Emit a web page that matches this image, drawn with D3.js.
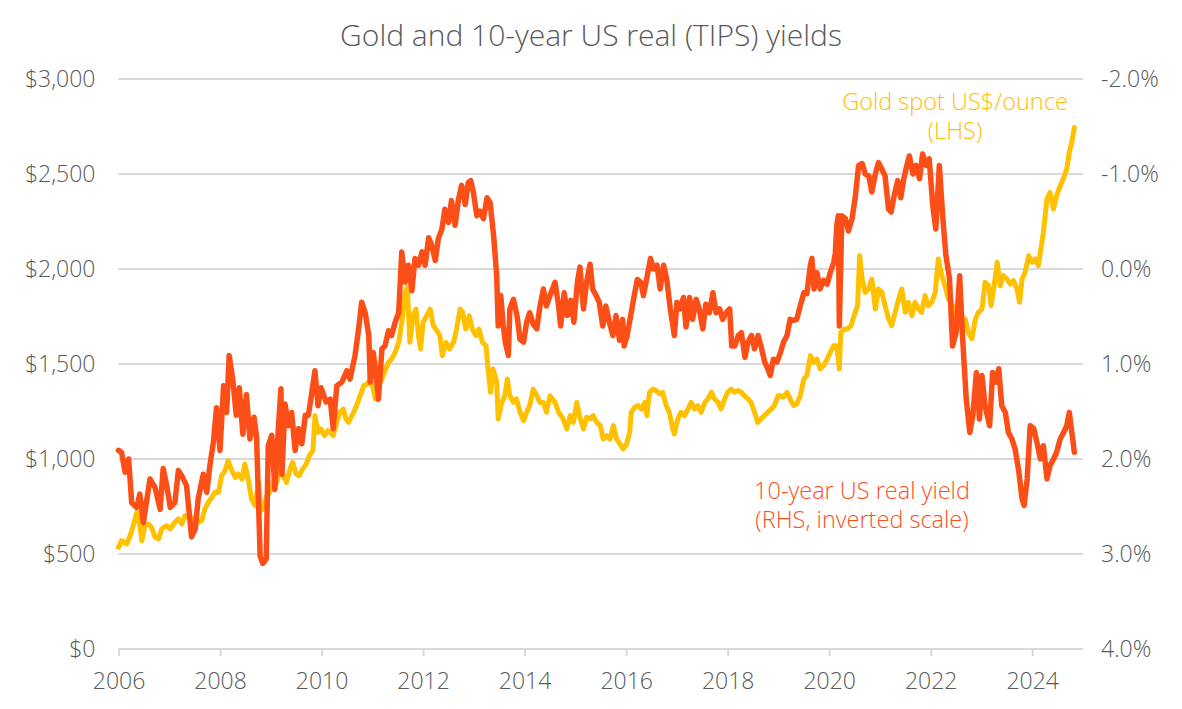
<!DOCTYPE html>
<html><head><meta charset="utf-8">
<script src="https://cdn.jsdelivr.net/npm/d3@7"></script>
<style>
body{margin:0;background:#fff;}
svg{display:block;font-family:"Open Sans",Lato,sans-serif;font-weight:300;}
svg text{font-family:"Open Sans",Lato,sans-serif;font-weight:300;}
</style></head>
<body><svg id="c" width="1182" height="709"></svg>
<script>
const titleText = "Gold and 10-year US real (TIPS) yields";
const yearTicks = [2006,2008,2010,2012,2014,2016,2018,2020,2022,2024];
const goldTicks = [0,500,1000,1500,2000,2500,3000];
const yieldTicks = [-2,-1,0,1,2,3,4];

// Gold spot US$/ounce (LHS) — decimal year, price
const goldYear = [2006.0,2006.06,2006.16,2006.23,2006.29,2006.36,2006.42,2006.46,2006.52,2006.59,2006.65,2006.72,2006.79,2006.85,2006.95,
2007.02,2007.11,2007.18,2007.25,2007.31,2007.38,2007.44,2007.51,2007.57,2007.64,2007.7,2007.77,2007.84,2007.9,2007.97,
2008.03,2008.1,2008.16,2008.22,2008.3,2008.36,2008.43,2008.49,2008.56,2008.62,2008.69,2008.76,2008.8,2008.85,2008.92,2008.98,
2009.05,2009.12,2009.18,2009.25,2009.31,2009.38,2009.43,2009.5,2009.56,2009.63,2009.7,2009.76,2009.83,2009.87,2009.93,2009.99,2010.06,2010.12,
2010.17,2010.23,2010.3,2010.36,2010.43,2010.48,2010.53,2010.6,2010.69,2010.76,2010.83,2010.9,2010.96,
2011.02,2011.06,2011.12,2011.19,2011.25,2011.32,2011.38,2011.45,2011.52,2011.58,2011.65,2011.69,2011.74,2011.8,2011.86,2011.91,2011.95,
2012.0,2012.07,2012.14,2012.2,2012.27,2012.33,2012.38,2012.45,2012.52,2012.6,2012.66,2012.73,2012.78,2012.84,2012.91,2012.97,
2013.04,2013.1,2013.17,2013.24,2013.28,2013.33,2013.38,2013.45,2013.48,2013.55,2013.61,2013.66,2013.71,2013.78,2013.84,2013.91,2013.98,
2014.04,2014.1,2014.17,2014.24,2014.3,2014.37,2014.43,2014.5,2014.6,2014.67,2014.76,2014.83,2014.9,2014.96,
2015.03,2015.08,2015.16,2015.22,2015.29,2015.35,2015.42,2015.49,2015.55,2015.62,2015.68,2015.75,2015.81,2015.88,2015.94,
2016.01,2016.07,2016.1,2016.17,2016.24,2016.3,2016.37,2016.41,2016.46,2016.53,2016.59,2016.66,2016.72,2016.79,2016.85,2016.92,2016.95,
2017.02,2017.08,2017.15,2017.22,2017.28,2017.35,2017.41,2017.48,2017.55,2017.61,2017.68,2017.74,2017.81,2017.87,2017.94,
2018.0,2018.07,2018.13,2018.2,2018.27,2018.33,2018.4,2018.46,2018.53,2018.59,2018.66,2018.72,2018.79,2018.86,2018.92,2018.99,
2019.04,2019.1,2019.17,2019.23,2019.3,2019.36,2019.43,2019.5,2019.56,2019.63,2019.69,2019.76,2019.82,2019.89,2019.96,
2020.02,2020.09,2020.15,2020.2,2020.23,2020.3,2020.36,2020.43,2020.49,2020.56,2020.6,2020.65,2020.71,2020.78,2020.84,2020.91,2020.97,
2021.04,2021.1,2021.17,2021.23,2021.3,2021.37,2021.43,2021.5,2021.56,2021.63,2021.69,2021.76,2021.82,2021.89,2021.95,
2022.02,2022.09,2022.15,2022.22,2022.28,2022.35,2022.41,2022.48,2022.55,2022.61,2022.68,2022.74,2022.81,2022.88,2022.94,
2023.01,2023.07,2023.14,2023.19,2023.25,2023.31,2023.37,2023.43,2023.5,2023.57,2023.63,2023.7,2023.75,2023.8,2023.86,2023.93,
2024.0,2024.06,2024.12,2024.17,2024.22,2024.29,2024.35,2024.42,2024.48,2024.55,2024.61,2024.68,2024.73,2024.78,2024.83];
const goldPrice = [535,570,553,597,649,720,649,570,649,658,641,588,579,632,649,
632,667,685,658,702,693,685,693,667,676,737,772,798,825,825,
912,939,991,947,903,921,895,974,886,790,755,877,728,737,807,825,
880,877,948,912,877,948,983,921,912,948,974,1018,1044,1228,1140,1158,1123,1149,
1140,1123,1193,1246,1263,1211,1193,1228,1281,1333,1386,1395,1421,
1368,1316,1386,1421,1465,1509,1526,1561,1614,1719,1877,1904,1614,1754,1789,1649,1579,
1719,1754,1789,1702,1676,1649,1544,1614,1579,1614,1684,1789,1772,1684,1754,1684,
1649,1684,1614,1596,1474,1351,1474,1404,1211,1298,1333,1421,1333,1298,1316,1246,1202,
1246,1281,1368,1333,1298,1298,1246,1333,1298,1246,1211,1158,1228,1193,
1298,1228,1158,1219,1211,1228,1193,1176,1105,1123,1105,1176,1105,1079,1053,
1079,1140,1246,1272,1281,1263,1298,1228,1351,1368,1360,1342,1351,1281,1246,1158,1132,
1211,1246,1228,1263,1298,1263,1281,1246,1298,1316,1351,1316,1298,1263,1316,
1351,1368,1351,1360,1351,1333,1316,1298,1246,1193,1211,1228,1246,1263,1281,1333,
1333,1325,1351,1316,1281,1290,1333,1421,1439,1544,1509,1526,1474,1491,1526,
1561,1596,1596,1474,1667,1684,1684,1702,1754,1807,2070,1947,1877,1895,1947,1789,1895,
1877,1807,1737,1702,1772,1842,1895,1772,1825,1754,1825,1789,1772,1860,1807,
1825,1877,2053,1965,1912,1842,1825,1754,1737,1684,1737,1667,1632,1737,1772,
1789,1930,1912,1807,1912,2035,1912,1965,1947,1921,1939,1895,1825,1947,1982,2070,
2035,2053,2018,2105,2193,2368,2403,2316,2386,2438,2474,2526,2614,2667,2745];

// 10-year US real yield % (RHS, inverted) — decimal year, yield
const yieldYear = [2006.0,2006.06,2006.13,2006.2,2006.26,2006.36,2006.42,2006.49,2006.56,2006.62,2006.72,2006.82,2006.88,2006.95,
2007.02,2007.11,2007.18,2007.25,2007.34,2007.44,2007.51,2007.57,2007.67,2007.74,2007.8,2007.87,2007.93,
2008.0,2008.07,2008.13,2008.18,2008.25,2008.32,2008.38,2008.45,2008.52,2008.59,2008.67,2008.72,2008.79,2008.84,2008.91,2008.95,
2009.02,2009.08,2009.15,2009.2,2009.22,2009.28,2009.35,2009.41,2009.48,2009.55,2009.61,2009.68,2009.74,2009.8,2009.87,2009.93,2009.99,2010.09,
2010.17,2010.23,2010.3,2010.4,2010.5,2010.56,2010.66,2010.73,2010.79,2010.86,2010.93,2010.96,
2011.02,2011.09,2011.12,2011.19,2011.25,2011.32,2011.38,2011.45,2011.52,2011.58,2011.65,2011.71,2011.78,2011.84,2011.91,2011.98,
2012.04,2012.11,2012.17,2012.24,2012.3,2012.37,2012.43,2012.5,2012.56,2012.63,2012.7,2012.76,2012.83,2012.89,2012.94,2012.99,
2013.06,2013.12,2013.19,2013.26,2013.32,2013.39,2013.45,2013.48,2013.53,2013.58,2013.62,2013.68,2013.71,2013.78,2013.85,2013.91,2013.98,
2014.04,2014.1,2014.17,2014.24,2014.3,2014.37,2014.43,2014.5,2014.6,2014.67,2014.71,2014.78,2014.84,2014.91,2014.97,
2015.04,2015.09,2015.16,2015.22,2015.29,2015.34,2015.41,2015.47,2015.54,2015.6,2015.67,2015.74,2015.8,2015.87,2015.93,2015.96,
2016.02,2016.09,2016.16,2016.22,2016.29,2016.34,2016.41,2016.48,2016.54,2016.61,2016.67,2016.74,2016.8,2016.87,2016.95,
2017.0,2017.06,2017.13,2017.18,2017.25,2017.31,2017.38,2017.44,2017.51,2017.57,2017.64,2017.71,2017.77,2017.84,2017.9,2017.97,
2018.04,2018.08,2018.14,2018.21,2018.27,2018.34,2018.4,2018.47,2018.53,2018.6,2018.66,2018.73,2018.79,2018.84,2018.9,2018.97,
2019.04,2019.1,2019.17,2019.23,2019.3,2019.36,2019.43,2019.5,2019.56,2019.63,2019.66,2019.7,2019.76,2019.82,2019.89,2019.96,
2020.02,2020.09,2020.12,2020.15,2020.18,2020.2,2020.25,2020.32,2020.38,2020.45,2020.51,2020.58,2020.65,2020.71,2020.78,2020.84,2020.9,2020.97,
2021.04,2021.1,2021.17,2021.22,2021.28,2021.35,2021.41,2021.47,2021.53,2021.58,2021.65,2021.71,2021.78,2021.84,2021.91,2021.97,
2022.04,2022.1,2022.17,2022.24,2022.3,2022.37,2022.43,2022.5,2022.57,2022.63,2022.7,2022.77,2022.83,2022.9,2022.96,
2023.01,2023.07,2023.16,2023.22,2023.29,2023.34,2023.4,2023.47,2023.53,2023.6,2023.66,2023.73,2023.8,2023.84,2023.9,2023.96,
2024.03,2024.09,2024.16,2024.22,2024.29,2024.35,2024.42,2024.48,2024.55,2024.62,2024.68,2024.73,2024.78,2024.83];
const yieldPct = [1.91,1.93,2.14,2.0,2.46,2.51,2.37,2.67,2.42,2.21,2.30,2.53,2.1,2.28,
2.51,2.46,2.12,2.18,2.28,2.82,2.74,2.42,2.16,2.35,2.07,1.82,1.46,
1.91,1.23,1.51,0.91,1.16,1.54,1.25,1.74,1.32,1.79,1.56,1.77,3.02,3.1,3.05,1.86,
1.75,2.32,1.67,1.26,2.16,1.42,1.65,1.51,1.91,1.68,1.84,1.54,1.54,1.33,1.07,1.44,1.25,1.40,
1.37,1.68,1.23,1.19,1.07,1.16,0.91,0.63,0.35,0.46,0.70,1.19,
0.88,1.19,1.37,0.84,0.81,0.65,0.70,0.56,0.46,-0.18,0.14,-0.04,0.23,-0.11,-0.04,-0.18,
-0.04,-0.33,-0.25,-0.09,-0.32,-0.42,-0.63,-0.49,-0.72,-0.46,-0.74,-0.88,-0.68,-0.91,-0.93,-0.81,
-0.56,-0.61,-0.53,-0.75,-0.70,-0.35,0.07,0.6,0.28,0.6,0.77,0.91,0.42,0.32,0.49,0.74,0.77,
0.56,0.46,0.58,0.63,0.40,0.21,0.39,0.28,0.14,0.39,0.6,0.25,0.49,0.33,0.56,
0.14,-0.02,0.42,0.14,-0.05,0.21,0.28,0.35,0.6,0.39,0.56,0.70,0.49,0.75,0.53,0.81,
0.70,0.49,0.28,0.11,0.14,0.28,0.09,-0.11,0.0,-0.04,0.21,-0.04,0.11,0.42,0.70,
0.35,0.42,0.3,0.61,0.3,0.53,0.32,0.42,0.63,0.37,0.46,0.25,0.46,0.42,0.53,0.46,
0.42,0.81,0.81,0.70,0.67,0.93,0.77,0.70,0.84,0.70,0.82,0.98,1.05,1.12,0.95,0.98,
0.88,0.77,0.70,0.53,0.54,0.53,0.39,0.25,0.26,-0.04,-0.11,0.21,0.04,0.21,0.12,0.16,
0.04,-0.07,-0.16,-0.46,-0.56,0.6,-0.56,-0.53,-0.40,-0.53,-0.74,-1.09,-1.11,-1.0,-0.98,-0.81,-0.98,-1.12,
-1.05,-0.98,-0.63,-0.6,-0.77,-0.93,-0.75,-0.95,-1.09,-1.19,-1.0,-1.09,-0.95,-1.21,-1.09,-1.16,
-0.67,-0.42,-1.09,-0.53,-0.14,0.1,0.81,0.67,0.07,0.74,1.37,1.72,1.54,1.09,1.58,
1.12,1.44,1.65,1.09,1.19,1.05,1.44,1.51,1.72,1.79,1.89,2.11,2.42,2.49,2.21,1.65,
1.68,1.82,2.0,1.86,2.21,2.07,2.0,1.93,1.79,1.72,1.65,1.51,1.72,1.93];

const W = 1182, H = 709;
const plotLeft = 118.5, plotRight = 1083, plotTop = 79, plotBottom = 649;
const gray = "#595959", gridCol = "#d9d9d9";
const goldCol = "#FFC000", yieldCol = "#FC4F17";
const fontSize = 23, noteSize = 23.5;
const FONT = "'Open Sans', Lato, sans-serif";

const svg = d3.select("#c");
const x = d3.scaleLinear().domain([2006, 2025]).range([plotLeft, plotRight]);
const yL = d3.scaleLinear().domain([0, 3000]).range([plotBottom, plotTop]);
const yR = d3.scaleLinear().domain([-2, 4]).range([plotTop, plotBottom]);

// title
svg.append("text").attr("x", 591).attr("y", 46).attr("text-anchor", "middle")
  .attr("font-size", 30).attr("fill", gray).text(titleText);

// gridlines
svg.append("g").selectAll("line").data(goldTicks.filter(d => d > 0)).join("line")
  .attr("x1", plotLeft).attr("x2", plotRight)
  .attr("y1", d => yL(d)).attr("y2", d => yL(d))
  .attr("stroke", gridCol).attr("stroke-width", 2);

function styleAxis(g) {
  g.attr("font-family", FONT).attr("font-size", fontSize);
  g.selectAll("text").attr("fill", gray).style("font-weight", 300);
}

// left axis
const leftAxis = d3.axisLeft(yL).tickValues(goldTicks).tickSize(0).tickPadding(23)
  .tickFormat(d => "$" + d3.format(",")(d));
const gl = svg.append("g").attr("transform", `translate(${plotLeft},0)`).call(leftAxis);
gl.select(".domain").remove();
styleAxis(gl);

// right axis
const rightAxis = d3.axisRight(yR).tickValues(yieldTicks).tickSize(0).tickPadding(18)
  .tickFormat(d => (d < 0 ? "-" : "") + Math.abs(d).toFixed(1) + "%");
const gr = svg.append("g").attr("transform", `translate(${plotRight},0)`).call(rightAxis);
gr.select(".domain").remove();
styleAxis(gr);

// bottom axis
const bottomAxis = d3.axisBottom(x).tickValues(yearTicks).tickSize(7).tickPadding(17).tickFormat(d3.format("d"));
const gb = svg.append("g").attr("transform", `translate(0,${plotBottom})`).call(bottomAxis);
gb.select(".domain").attr("stroke", gridCol).attr("stroke-width", 2).attr("d", `M${plotLeft},0H${plotRight}`);
gb.selectAll(".tick line").attr("stroke", gridCol).attr("stroke-width", 2);
styleAxis(gb);

// lines
const goldData = goldYear.map((t, i) => [t, goldPrice[i]]);
const yieldData = yieldYear.map((t, i) => [t, yieldPct[i]]);
svg.append("path").datum(goldData)
  .attr("d", d3.line().x(d => x(d[0])).y(d => yL(d[1])))
  .attr("fill", "none").attr("stroke", goldCol).attr("stroke-width", 5)
  .attr("stroke-linejoin", "round").attr("stroke-linecap", "round");
svg.append("path").datum(yieldData)
  .attr("d", d3.line().x(d => x(d[0])).y(d => yR(d[1])))
  .attr("fill", "none").attr("stroke", yieldCol).attr("stroke-width", 5.5)
  .attr("stroke-linejoin", "round").attr("stroke-linecap", "round");

// annotations (each line its own text element)
const goldNote = [["Gold spot US$/ounce", 110], ["(LHS)", 139]];
svg.append("g").selectAll("text").data(goldNote).join("text")
  .attr("x", 955).attr("y", d => d[1]).attr("text-anchor", "middle")
  .attr("font-size", noteSize).attr("fill", goldCol).text(d => d[0]);
const yieldNote = [["10-year US real yield", 499], ["(RHS, inverted scale)", 528]];
svg.append("g").selectAll("text").data(yieldNote).join("text")
  .attr("x", 862).attr("y", d => d[1]).attr("text-anchor", "middle")
  .attr("font-size", noteSize).attr("fill", yieldCol).text(d => d[0]);
</script></body></html>
